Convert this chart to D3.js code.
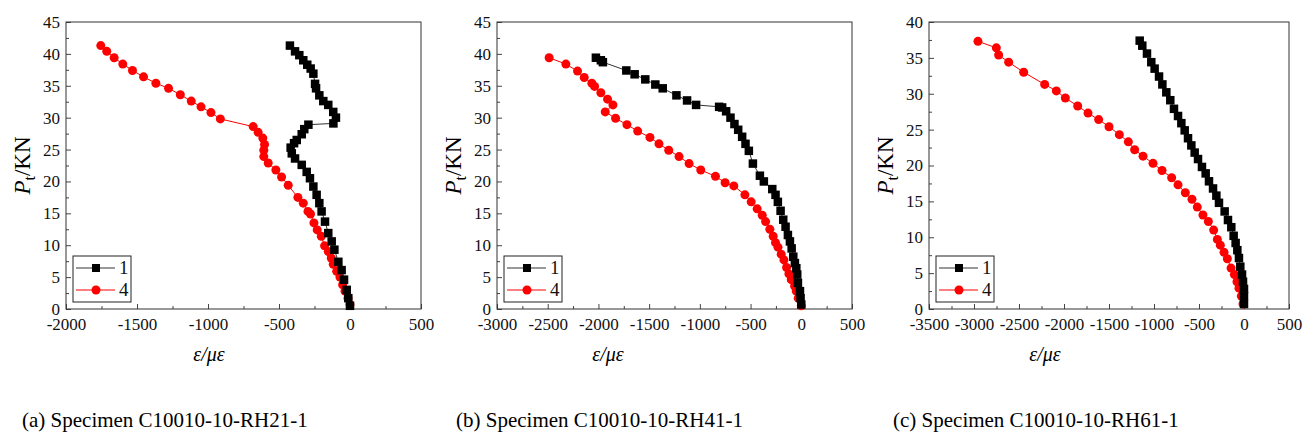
<!DOCTYPE html>
<html>
<head>
<meta charset="utf-8">
<script src="https://cdn.jsdelivr.net/npm/d3@7"></script>
<style>
body { margin: 0; background: #fff; }
text { font-family: "Liberation Serif", "Times New Roman", serif; }
</style>
</head>
<body>
<svg id="chart" width="1304" height="435"></svg>
<script>
// strain (με), load Pt (KN) pairs
var a1 = [[-423,41.3],[-387,40.4],[-357,39.8],[-329,39.0],[-301,38.3],[-277,37.7],[-258,36.9],[-246,35.3],[-239,34.6],[-216,33.5],[-188,32.6],[-153,32.0],[-118,30.9],[-99,30.0],[-117,29.1],[-293,28.9],[-322,28.2],[-340,27.4],[-375,26.5],[-394,26.0],[-418,25.3],[-410,24.4],[-387,23.6],[-340,22.6],[-305,21.5],[-282,20.5],[-258,19.2],[-235,17.9],[-216,16.6],[-200,15.3],[-176,13.7],[-153,11.9],[-129,10.6],[-110,9.3],[-82,7.4],[-59,6.1],[-42,4.6],[-23,3.0],[-12,1.7],[0,0.5]];
var a4 = [[-1755,41.3],[-1713,40.4],[-1661,39.4],[-1600,38.4],[-1532,37.4],[-1454,36.4],[-1367,35.4],[-1278,34.6],[-1195,33.6],[-1118,32.6],[-1049,31.7],[-979,30.8],[-913,29.8],[-682,28.6],[-647,27.7],[-614,26.8],[-602,25.8],[-607,24.9],[-607,23.9],[-576,22.9],[-522,21.8],[-482,20.7],[-435,19.4],[-367,17.5],[-329,16.6],[-296,15.3],[-278,14.9],[-254,13.5],[-231,12.4],[-202,11.4],[-179,9.9],[-153,9.0],[-132,8.0],[-118,7.0],[-94,5.9],[-71,5.0],[-52,3.8],[-35,2.8],[-14,1.7],[0,0.7]];
var b1 = [[-2025,39.4],[-1976,39.0],[-1956,38.7],[-1725,37.4],[-1643,36.8],[-1538,36.0],[-1439,35.2],[-1366,34.6],[-1231,33.5],[-1126,32.7],[-1037,32.0],[-810,31.7],[-780,31.6],[-741,31.0],[-698,30.0],[-659,29.0],[-622,28.1],[-583,27.0],[-550,25.9],[-517,24.8],[-477,22.8],[-408,20.9],[-369,20.0],[-286,18.8],[-254,17.9],[-231,16.8],[-204,15.4],[-178,14.0],[-155,12.9],[-132,11.6],[-112,10.6],[-95,9.5],[-79,8.2],[-63,7.2],[-49,6.4],[-40,5.4],[-33,4.1],[-13,2.8],[-7,1.7],[0,0.7]];
var b4 = [[-2486,39.4],[-2321,38.4],[-2206,37.3],[-2140,36.3],[-2065,35.4],[-2038,34.9],[-1976,33.9],[-1910,32.9],[-1857,32.0],[-1933,30.9],[-1831,29.9],[-1719,28.9],[-1613,27.9],[-1492,26.9],[-1403,25.9],[-1307,24.9],[-1205,23.9],[-1106,22.8],[-991,21.8],[-846,20.8],[-751,19.8],[-665,19.3],[-556,17.9],[-494,16.8],[-435,15.7],[-385,14.7],[-352,13.7],[-310,12.5],[-277,11.4],[-254,10.4],[-230,9.7],[-198,8.6],[-171,7.7],[-145,6.5],[-122,5.5],[-99,4.6],[-66,3.6],[-49,2.8],[-30,1.7],[0,0.5]];
var c1 = [[-1159,37.4],[-1130,36.7],[-1078,35.6],[-1030,34.4],[-993,33.5],[-944,32.4],[-907,31.3],[-863,30.2],[-819,29.1],[-778,27.9],[-733,26.9],[-696,25.9],[-659,24.9],[-622,23.8],[-585,22.8],[-548,21.8],[-511,20.9],[-467,19.8],[-426,18.9],[-389,17.8],[-344,16.8],[-307,15.8],[-278,14.8],[-215,13.6],[-178,12.4],[-141,11.4],[-115,10.2],[-93,9.2],[-74,8.2],[-56,7.1],[-41,5.9],[-22,4.8],[-11,3.8],[0,2.8],[0,1.8],[0,0.7]];
var c4 = [[-2956,37.3],[-2752,36.4],[-2726,35.4],[-2615,34.4],[-2448,33.0],[-2215,31.3],[-2085,30.4],[-1985,29.4],[-1848,28.3],[-1733,27.3],[-1615,26.4],[-1500,25.4],[-1385,24.3],[-1285,23.3],[-1215,22.2],[-1122,21.3],[-1011,20.3],[-911,19.3],[-804,18.3],[-733,17.3],[-652,16.2],[-578,15.3],[-519,14.2],[-456,13.1],[-396,12.2],[-337,11.0],[-296,9.7],[-263,8.9],[-222,7.9],[-185,7.0],[-144,5.7],[-107,4.8],[-78,3.8],[-56,2.9],[-30,1.8],[-11,0.7]];

var xTicksA = [-2000,-1500,-1000,-500,0,500];
var xTicksB = [-3000,-2500,-2000,-1500,-1000,-500,0,500];
var xTicksC = [-3500,-3000,-2500,-2000,-1500,-1000,-500,0,500];
var yTicks45 = [0,5,10,15,20,25,30,35,40,45];
var yTicks40 = [0,5,10,15,20,25,30,35,40];
var seriesNames = ["1", "4"];
var captions = ["(a) Specimen C10010-10-RH21-1", "(b) Specimen C10010-10-RH41-1", "(c) Specimen C10010-10-RH61-1"];

(function () {
    var panels = [
        {left: 66, right: 421, xTicks: xTicksA, yTicks: yTicks45, s1: a1, s4: a4, caption: captions[0], capX: 22, xLab: 209},
        {left: 497, right: 852, xTicks: xTicksB, yTicks: yTicks45, s1: b1, s4: b4, caption: captions[1], capX: 456, xLab: 608},
        {left: 929, right: 1289, xTicks: xTicksC, yTicks: yTicks40, s1: c1, s4: c4, caption: captions[2], capX: 893, xLab: 1045}
    ];
    var plotTop = 22, plotBottom = 309;

    var svg = d3.select("#chart");

    function midpoints(t) {
        var m = [];
        for (var i = 0; i < t.length - 1; i++) m.push((t[i] + t[i + 1]) / 2);
        return m;
    }
    function plain(d) { return String(d); }

    panels.forEach(function (p) {
        var x = d3.scaleLinear()
            .domain([p.xTicks[0], p.xTicks[p.xTicks.length - 1]])
            .range([p.left, p.right]);
        var y = d3.scaleLinear()
            .domain([0, p.yTicks[p.yTicks.length - 1]])
            .range([plotBottom, plotTop]);

        var g = svg.append("g");

        // minor ticks
        g.append("g")
            .attr("transform", "translate(0," + plotBottom + ")")
            .call(d3.axisBottom(x).tickValues(midpoints(p.xTicks)).tickSize(-3).tickFormat(""))
            .call(function (s) { s.select(".domain").remove(); });
        g.append("g")
            .attr("transform", "translate(" + p.left + ",0)")
            .call(d3.axisLeft(y).tickValues(midpoints(p.yTicks)).tickSize(-3).tickFormat(""))
            .call(function (s) { s.select(".domain").remove(); });

        // major ticks
        var xAxis = g.append("g")
            .attr("transform", "translate(0," + plotBottom + ")")
            .call(d3.axisBottom(x).tickValues(p.xTicks).tickFormat(plain).tickSizeInner(-5).tickSizeOuter(0).tickPadding(9));
        var yAxis = g.append("g")
            .attr("transform", "translate(" + p.left + ",0)")
            .call(d3.axisLeft(y).tickValues(p.yTicks).tickFormat(plain).tickSizeInner(-5).tickSizeOuter(0).tickPadding(6));
        [xAxis, yAxis].forEach(function (a) {
            a.attr("font-family", null).attr("font-size", null);
            a.select(".domain").remove();
            a.selectAll("text")
                .style("font-family", "'Liberation Serif', serif")
                .style("font-size", "17px")
                .attr("fill", "#111");
        });
        g.selectAll(".tick line").attr("stroke", "#444");

        g.append("rect")
            .attr("x", p.left).attr("y", plotTop)
            .attr("width", p.right - p.left).attr("height", plotBottom - plotTop)
            .attr("fill", "none").attr("stroke", "#333").attr("stroke-width", 1);

        var line = d3.line().x(function (d) { return x(d[0]); }).y(function (d) { return y(d[1]); });

        // series 4 (red circles)
        g.append("path").datum(p.s4).attr("d", line)
            .attr("fill", "none").attr("stroke", "#f00").attr("stroke-width", 1);
        g.append("g").selectAll("circle").data(p.s4).enter().append("circle")
            .attr("cx", function (d) { return x(d[0]); })
            .attr("cy", function (d) { return y(d[1]); })
            .attr("r", 4.5).attr("fill", "#f00");

        // series 1 (black squares)
        g.append("path").datum(p.s1).attr("d", line)
            .attr("fill", "none").attr("stroke", "#333").attr("stroke-width", 1);
        g.append("g").selectAll("rect.sq").data(p.s1).enter().append("rect")
            .attr("class", "sq")
            .attr("x", function (d) { return x(d[0]) - 4.25; })
            .attr("y", function (d) { return y(d[1]) - 4.25; })
            .attr("width", 8.5).attr("height", 8.5).attr("fill", "#000");

        // legend
        var lg = g.append("g").attr("transform", "translate(" + (p.left + 7) + "," + (plotBottom - 53) + ")");
        lg.append("rect").attr("width", 58).attr("height", 46)
            .attr("fill", "#fff").attr("stroke", "#222").attr("stroke-width", 1);
        seriesNames.forEach(function (name, i) {
            var yy = 12 + i * 22;
            var col = i === 0 ? "#333" : "#f00";
            lg.append("line").attr("x1", 3).attr("x2", 42).attr("y1", yy).attr("y2", yy)
                .attr("stroke", col).attr("stroke-width", 1);
            if (i === 0) {
                lg.append("rect").attr("x", 19).attr("y", yy - 4).attr("width", 8).attr("height", 8).attr("fill", "#000");
            } else {
                lg.append("circle").attr("cx", 23).attr("cy", yy).attr("r", 4.5).attr("fill", "#f00");
            }
            lg.append("text").attr("x", 46).attr("y", yy + 6)
                .style("font-size", "19px").attr("fill", "#111").text(name);
        });

        // y label
        var yl = g.append("text")
            .attr("transform", "translate(" + (p.left - 36) + "," + (plotTop + plotBottom) / 2 + ") rotate(-90)")
            .attr("text-anchor", "middle")
            .style("font-size", "23px").attr("fill", "#000");
        yl.append("tspan").style("font-style", "italic").text("P");
        yl.append("tspan").attr("dy", 5).style("font-size", "16px").text("t");
        yl.append("tspan").attr("dy", -5).text("/KN");

        // x label
        g.append("text")
            .attr("x", p.xLab).attr("y", 361)
            .attr("text-anchor", "middle")
            .style("font-size", "20px").style("font-style", "italic").attr("fill", "#000")
            .text("ε/με");

        // caption
        g.append("text")
            .attr("x", p.capX).attr("y", 427)
            .style("font-size", "21px").attr("fill", "#000")
            .text(p.caption);
    });
})();
</script>
</body>
</html>
